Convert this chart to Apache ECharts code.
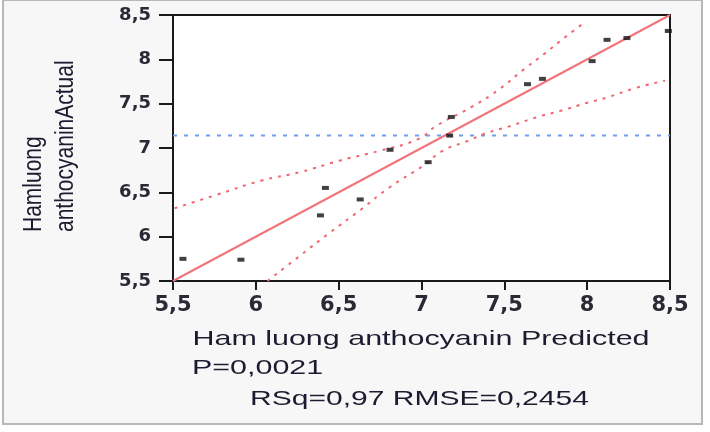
<!DOCTYPE html>
<html>
<head>
<meta charset="utf-8">
<script src="https://cdn.jsdelivr.net/npm/echarts@6/dist/echarts.min.js"></script>
<style>
  html, body { margin: 0; padding: 0; background: #fff; }
  #chart { width: 710px; height: 432px; }
</style>
</head>
<body>
<div id="chart"></div>
<script>
const predicted = [5.56, 5.91, 6.39, 6.42, 6.63, 6.81, 7.04, 7.17, 7.18, 7.64, 7.73, 8.03, 8.12, 8.24, 8.49];
const actual = [5.75, 5.74, 6.24, 6.55, 6.42, 6.98, 6.84, 7.14, 7.35, 7.72, 7.78, 7.98, 8.22, 8.24, 8.32];

const fitX = [5.5, 8.5];
const fitY = [5.5, 8.5];
const meanY = 7.14;

const upperX = [5.51, 5.76, 6.03, 6.27, 6.51, 6.75, 6.98, 7.09, 7.30, 7.46, 7.62, 7.74, 7.86, 7.98];
const upperY = [6.32, 6.47, 6.63, 6.73, 6.86, 6.97, 7.10, 7.25, 7.46, 7.65, 7.89, 8.06, 8.24, 8.41];
const lowerX = [6.07, 6.27, 6.45, 6.63, 6.81, 7.01, 7.13, 7.28, 7.38, 7.54, 7.70, 7.84, 8.00, 8.12, 8.28, 8.47];
const lowerY = [5.50, 5.79, 6.05, 6.30, 6.56, 6.80, 6.97, 7.08, 7.16, 7.25, 7.35, 7.42, 7.51, 7.57, 7.67, 7.76];

const tickFmt = (v) => String(v).replace(".", ",");
const pairs = (xs, ys) => xs.map((x, i) => [x, ys[i]]);
const textFont = "21px 'Liberation Sans', Arial, sans-serif";
const textColor = "#1c1c30";

const chart = echarts.init(document.getElementById("chart"));
chart.setOption({
  animation: false,
  backgroundColor: "#ffffff",
  graphic: [
    {
      type: "rect",
      z: -10,
      shape: { x: 3, y: 0, width: 699, height: 424 },
      style: { fill: "#f7f7f7", stroke: "#b8b8b8", lineWidth: 2 },
    },
    {
      // y title, stretched across like the reference
      type: "text",
      x: 50,
      y: 232,
      rotation: Math.PI / 2,
      scaleY: 1.2,
      style: {
        text: "Hamluong\nanthocyaninActual",
        font: textFont,
        fill: textColor,
        align: "left",
        verticalAlign: "middle",
        lineHeight: 27,
      },
    },
    {
      type: "text",
      x: 421,
      y: 339,
      scaleX: 1.45,
      style: { text: "Ham luong anthocyanin Predicted", font: textFont, fill: textColor, align: "center", verticalAlign: "middle" },
    },
    {
      type: "text",
      x: 192,
      y: 368,
      scaleX: 1.45,
      style: { text: "P=0,0021", font: textFont, fill: textColor, verticalAlign: "middle" },
    },
    {
      type: "text",
      x: 250,
      y: 399,
      scaleX: 1.43,
      style: { text: "RSq=0,97 RMSE=0,2454", font: textFont, fill: textColor, verticalAlign: "middle" },
    },
  ],
  grid: {
    left: 173,
    right: 40,
    top: 15,
    height: 266,
    show: true,
    backgroundColor: "#ffffff",
    borderColor: "#1a1a1a",
    borderWidth: 2,
  },
  xAxis: {
    type: "value",
    min: 5.5,
    max: 8.5,
    interval: 0.5,
    splitLine: { show: false },
    axisLine: { show: true, lineStyle: { color: "#1a1a1a", width: 2 } },
    axisTick: { show: true, length: 9, lineStyle: { color: "#1a1a1a", width: 2 } },
    axisLabel: {
      margin: 14,
      fontSize: 21,
      fontWeight: "bold",
      fontFamily: "'DejaVu Sans', sans-serif",
      color: "#2a2a36",
      formatter: tickFmt,
    },
  },
  yAxis: {
    type: "value",
    min: 5.5,
    max: 8.5,
    interval: 0.5,
    splitLine: { show: false },
    axisLine: { show: true, lineStyle: { color: "#1a1a1a", width: 2 } },
    axisTick: { show: true, length: 14, lineStyle: { color: "#1a1a1a", width: 2 } },
    axisLabel: {
      margin: 22,
      fontSize: 18,
      fontWeight: "bold",
      fontFamily: "'DejaVu Sans', sans-serif",
      color: "#2a2a36",
      formatter: tickFmt,
    },
  },
  series: [
    {
      name: "Mean",
      type: "line",
      data: [[fitX[0], meanY], [fitX[1], meanY]],
      showSymbol: false,
      silent: true,
      lineStyle: { color: "#6f9ef0", width: 2, type: [4, 7] },
    },
    {
      name: "Upper",
      type: "line",
      data: pairs(upperX, upperY),
      smooth: true,
      showSymbol: false,
      silent: true,
      lineStyle: { color: "#f06570", width: 2, type: [3, 6] },
    },
    {
      name: "Lower",
      type: "line",
      data: pairs(lowerX, lowerY),
      smooth: true,
      showSymbol: false,
      silent: true,
      lineStyle: { color: "#f06570", width: 2, type: [3, 6] },
    },
    {
      name: "Fit",
      type: "line",
      data: pairs(fitX, fitY),
      showSymbol: false,
      silent: true,
      lineStyle: { color: "#f07478", width: 2 },
    },
    {
      name: "Actual",
      type: "scatter",
      data: pairs(predicted, actual),
      symbol: "rect",
      symbolSize: [7, 4],
      itemStyle: { color: "#111111" },
      z: 5,
    },
  ],
});
</script>
</body>
</html>
